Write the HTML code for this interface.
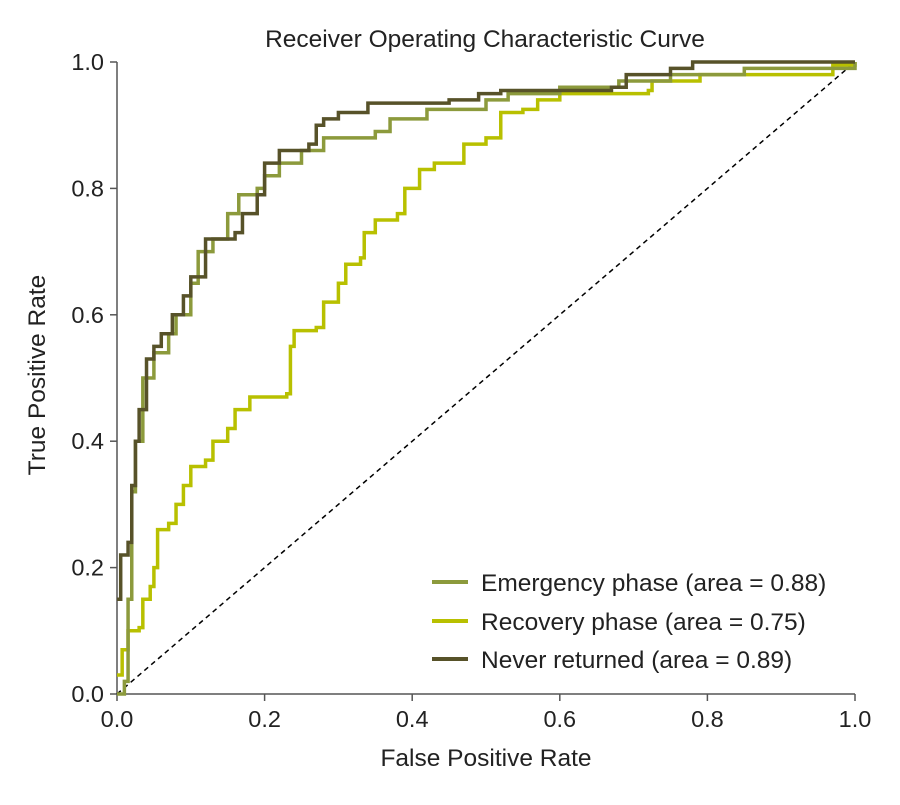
<!DOCTYPE html>
<html><head><meta charset="utf-8"><style>body{margin:0;background:#fff}text{font-family:"Liberation Sans",sans-serif;fill:#222}</style></head>
<body>
<svg id="chart" width="900" height="800">
<text x="485" y="47" text-anchor="middle" font-size="24.5">Receiver Operating Characteristic Curve</text>
<g id="axes"></g><g id="series"></g>
<text x="486" y="766" text-anchor="middle" font-size="24.5">False Positive Rate</text>
<text transform="translate(45,375) rotate(-90)" text-anchor="middle" font-size="24.5">True Positive Rate</text>
<g>
<line x1="432" y1="582" x2="468" y2="582" stroke="#8c9a3c" stroke-width="4"/>
<text x="481" y="591" font-size="24.5">Emergency phase (area = 0.88)</text>
<line x1="432" y1="621" x2="468" y2="621" stroke="#b8c000" stroke-width="4"/>
<text x="481" y="630" font-size="24.5">Recovery phase (area = 0.75)</text>
<line x1="432" y1="659" x2="468" y2="659" stroke="#575229" stroke-width="4"/>
<text x="481" y="668" font-size="24.5">Never returned (area = 0.89)</text>
</g>
</svg>
<script>
const tickLabels=["0.0","0.2","0.4","0.6","0.8","1.0"];
const tickValues=[0,0.2,0.4,0.6,0.8,1];
const emergencyFpr=[0,0.01,0.015,0.02,0.025,0.035,0.05,0.07,0.08,0.1,0.11,0.13,0.15,0.165,0.19,0.2,0.22,0.25,0.28,0.35,0.37,0.42,0.5,0.53,0.6,0.68,0.75,0.85,1];
const emergencyTpr=[0,0.02,0.15,0.32,0.4,0.5,0.54,0.57,0.6,0.65,0.7,0.72,0.76,0.79,0.8,0.82,0.84,0.86,0.88,0.89,0.91,0.925,0.94,0.95,0.96,0.97,0.98,0.99,1];
const recoveryFpr=[0,0.007,0.015,0.03,0.035,0.045,0.05,0.055,0.07,0.08,0.09,0.1,0.12,0.13,0.15,0.16,0.18,0.23,0.235,0.24,0.27,0.28,0.3,0.31,0.33,0.335,0.35,0.38,0.39,0.41,0.43,0.47,0.5,0.52,0.55,0.57,0.6,0.72,0.725,0.79,0.96,0.97,1];
const recoveryTpr=[0.03,0.07,0.1,0.105,0.15,0.17,0.2,0.26,0.27,0.3,0.33,0.36,0.37,0.4,0.42,0.45,0.47,0.475,0.55,0.575,0.58,0.62,0.65,0.68,0.69,0.73,0.75,0.76,0.8,0.83,0.84,0.87,0.88,0.92,0.925,0.94,0.95,0.955,0.97,0.98,0.98,0.995,1];
const neverFpr=[0,0.005,0.015,0.02,0.025,0.03,0.04,0.05,0.06,0.075,0.09,0.1,0.12,0.16,0.17,0.19,0.2,0.22,0.26,0.27,0.28,0.3,0.34,0.45,0.49,0.52,0.67,0.69,0.75,0.78,1];
const neverTpr=[0.15,0.22,0.24,0.33,0.4,0.45,0.53,0.55,0.57,0.6,0.63,0.66,0.72,0.73,0.76,0.79,0.84,0.86,0.87,0.9,0.91,0.92,0.935,0.94,0.95,0.955,0.96,0.98,0.99,1,1];
const NS="http://www.w3.org/2000/svg";
const X=v=>117+v*738, Y=v=>694-v*632;
const ax=document.getElementById('axes'), sg=document.getElementById('series');
function mk(t,a,p){const e=document.createElementNS(NS,t);for(const k in a)e.setAttribute(k,a[k]);p.appendChild(e);return e;}
let e=mk('line',{x1:117,y1:62,x2:117,y2:694,stroke:'#555','stroke-width':1.5},ax);


e=mk('line',{x1:117,y1:694,x2:855,y2:694,stroke:'#555','stroke-width':1.5},ax);


tickValues.forEach((v,i)=>{
 let t=mk('line',{x1:X(v),y1:694,x2:X(v),y2:701,stroke:'#555','stroke-width':1.5},ax);
 
 
 t=mk('text',{x:X(v),y:727,'text-anchor':'middle','font-size':23.5},ax);t.textContent=tickLabels[i];
 
 
 t=mk('line',{x1:110,y1:Y(v),x2:117,y2:Y(v),stroke:'#555','stroke-width':1.5},ax);
 
 
 t=mk('text',{x:104,y:Y(v)+8,'text-anchor':'end','font-size':23.5},ax);t.textContent=tickLabels[i];
 
 
});
e=mk('line',{x1:X(0),y1:Y(0),x2:X(1),y2:Y(1),stroke:'#000','stroke-width':1.5,'stroke-dasharray':'5,4'},sg);


function step(xs,ys,col,name){
 let d='M'+X(xs[0])+','+Y(ys[0]);
 for(let i=1;i<xs.length;i++){d+=' H'+X(xs[i])+' V'+Y(ys[i]);}
 const p=mk('path',{d:d,fill:'none',stroke:col,'stroke-width':3.5},sg);
 
 
}
step(recoveryFpr,recoveryTpr,'#b8c000','recovery-curve');
step(emergencyFpr,emergencyTpr,'#8c9a3c','emergency-curve');
step(neverFpr,neverTpr,'#575229','never-returned-curve');
</script>
</body></html>
